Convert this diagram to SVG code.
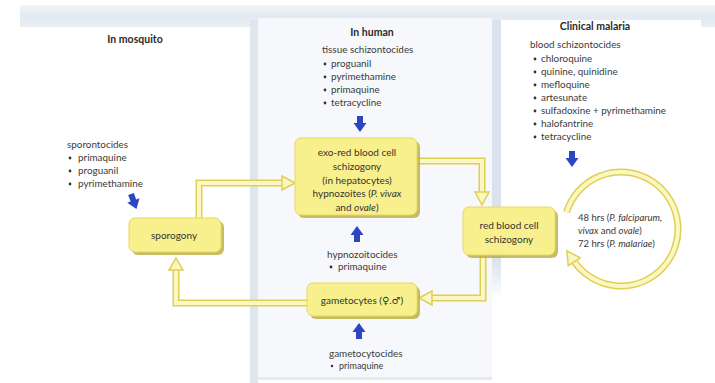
<svg xmlns="http://www.w3.org/2000/svg" width="715" height="383" viewBox="0 0 715 383">
<style>
  text { font-family: Lato, "Open Sans", "DejaVu Sans", sans-serif; fill: #3a3a3a; }
  .title { font-size: 10.5px; font-weight: bold; fill: #2a2a2a; }
  .list { font-size: 9.9px; }
  .node { font-size: 10px; text-anchor: middle; fill: #333; }
  .cyc { font-size: 9.5px; }
  .box { fill: #f8f08c; stroke: #e4d862; stroke-width: 1; }
  .shadow { fill: #b9ab3e; opacity: 0.8; }
  .lineOut { fill: none; stroke: #e0cf55; stroke-width: 7; stroke-linejoin: miter; }
  .lineIn { fill: none; stroke: #fbf7c2; stroke-width: 4; stroke-linejoin: miter; }
  .head { fill: #fbf7c2; stroke: #e0cf55; stroke-width: 1.5; stroke-linejoin: miter; }
  .blue { fill: #2b46c2; }
  .bul { fill: #333; }
</style>
<defs>
  <linearGradient id="topband" x1="0" y1="0" x2="0" y2="1">
    <stop offset="0" stop-color="#f2f5f9"/>
    <stop offset="0.5" stop-color="#e3e9f1"/>
    <stop offset="1" stop-color="#e9eef4"/>
  </linearGradient>
  <linearGradient id="vfade" x1="0" y1="0" x2="0" y2="1">
    <stop offset="0" stop-color="#d9e2ed"/>
    <stop offset="0.85" stop-color="#d9e2ed"/>
    <stop offset="1" stop-color="#d9e2ed" stop-opacity="0"/>
  </linearGradient>
  <path id="barrow" d="M-3,0 H3 V7 H6.5 L0,16 L-6.5,7 H-3 Z"/>
</defs>

<!-- background panels -->
<rect x="0" y="0" width="715" height="383" fill="#ffffff"/>
<rect x="20" y="5" width="695" height="22" fill="url(#topband)"/>
<rect x="20" y="27" width="230" height="356" fill="#ffffff"/>
<rect x="258" y="18" width="234" height="360" fill="#f6f8fb"/>
<rect x="250" y="20" width="8" height="363" fill="#dfe6ef"/>
<rect x="492" y="20" width="9" height="280" fill="url(#vfade)"/>
<rect x="501" y="20" width="200" height="363" fill="#ffffff"/>
<rect x="258" y="377" width="234" height="3" fill="#e6ebf1"/>

<!-- headings and drug lists -->
<g id="labels">
  <text class="title" x="135" y="43" text-anchor="middle">In mosquito</text>
  <text class="title" x="372" y="36" text-anchor="middle">In human</text>
  <text class="title" x="595" y="30" text-anchor="middle">Clinical malaria</text>

  <text class="list" x="67" y="148">sporontocides</text>
  <circle class="bul" cx="70" cy="158" r="1.4"/><text class="list" x="78" y="161">primaquine</text>
  <circle class="bul" cx="70" cy="171" r="1.4"/><text class="list" x="78" y="174">proguanil</text>
  <circle class="bul" cx="70" cy="184" r="1.4"/><text class="list" x="78" y="187">pyrimethamine</text>

  <text class="list" x="322" y="53">tissue schizontocides</text>
  <circle class="bul" cx="325" cy="64" r="1.4"/><text class="list" x="331" y="67">proguanil</text>
  <circle class="bul" cx="325" cy="77" r="1.4"/><text class="list" x="331" y="80">pyrimethamine</text>
  <circle class="bul" cx="325" cy="90" r="1.4"/><text class="list" x="331" y="93">primaquine</text>
  <circle class="bul" cx="325" cy="103" r="1.4"/><text class="list" x="331" y="106">tetracycline</text>

  <text class="list" x="530" y="48">blood schizontocides</text>
  <circle class="bul" cx="535" cy="59" r="1.4"/><text class="list" x="541" y="62">chloroquine</text>
  <circle class="bul" cx="535" cy="72" r="1.4"/><text class="list" x="541" y="75">quinine, quinidine</text>
  <circle class="bul" cx="535" cy="85" r="1.4"/><text class="list" x="541" y="88">mefloquine</text>
  <circle class="bul" cx="535" cy="98" r="1.4"/><text class="list" x="541" y="101">artesunate</text>
  <circle class="bul" cx="535" cy="111" r="1.4"/><text class="list" x="541" y="114">sulfadoxine + pyrimethamine</text>
  <circle class="bul" cx="535" cy="124" r="1.4"/><text class="list" x="541" y="127">halofantrine</text>
  <circle class="bul" cx="535" cy="137" r="1.4"/><text class="list" x="541" y="140">tetracycline</text>

  <text class="list" x="327" y="258">hypnozoitocides</text>
  <circle class="bul" cx="331" cy="267" r="1.4"/><text class="list" x="338" y="270">primaquine</text>

  <text class="list" x="329" y="357">gametocytocides</text>
  <circle class="bul" cx="332" cy="366" r="1.2"/><text class="list" x="339" y="369" style="font-size:9px">primaquine</text>
</g>

<!-- blue drug arrows -->
<g id="drug-arrows">
  <use href="#barrow" class="blue" transform="translate(131,194) rotate(-20)"/>
  <use href="#barrow" class="blue" transform="translate(360,116)"/>
  <use href="#barrow" class="blue" transform="translate(572,151)"/>
  <use href="#barrow" class="blue" transform="translate(357,242) rotate(180)"/>
  <use href="#barrow" class="blue" transform="translate(359,339) rotate(180)"/>
</g>

<!-- connectors -->
<g id="connectors">
  <path class="lineOut" d="M199,220 V183 H283"/>
  <path class="lineIn" d="M199,220 V183 H283"/>
  <polygon class="head" points="282,176 295,183 282,190"/>

  <path class="lineOut" d="M418,161 H482 V193"/>
  <path class="lineIn" d="M418,161 H482 V193"/>
  <polygon class="head" points="475,192 482,205 489,192"/>

  <path class="lineOut" d="M483,256 V298 H431"/>
  <path class="lineIn" d="M483,256 V298 H431"/>
  <polygon class="head" points="432,291 419,298 432,305"/>

  <path class="lineOut" d="M308,303 H176 V269"/>
  <path class="lineIn" d="M308,303 H176 V269"/>
  <polygon class="head" points="169,270 176,258 183,270"/>

  <path class="lineOut" d="M566.5,212.3 A57,57 0 1 1 574.3,261.7"/>
  <path class="lineIn" d="M566.5,212.3 A57,57 0 1 1 574.3,261.7"/>
  <polygon class="head" points="580.3,257.9 566.8,250.8 568.3,265.6"/>
</g>

<!-- nodes -->
<g id="node-sporogony">
  <rect class="shadow" x="132" y="221" width="92" height="34" rx="6"/>
  <rect class="box" x="129" y="218" width="92" height="34" rx="6"/>
  <text class="node" x="174" y="239">sporogony</text>
</g>

<g id="node-exo">
  <rect class="shadow" x="298" y="141" width="122" height="77" rx="6"/>
  <rect class="box" x="295" y="138" width="122" height="77" rx="6"/>
  <text class="node" x="357" y="156">exo-red blood cell</text>
  <text class="node" x="357" y="170">schizogony</text>
  <text class="node" x="357" y="184">(in hepatocytes)</text>
  <text class="node" x="357" y="197">hypnozoites (<tspan font-style="italic">P. vivax</tspan></text>
  <text class="node" x="357" y="211">and <tspan font-style="italic">ovale</tspan>)</text>
</g>

<g id="node-rbc">
  <rect class="shadow" x="466" y="210" width="92" height="48" rx="6"/>
  <rect class="box" x="463" y="207" width="92" height="48" rx="6"/>
  <text class="node" x="509" y="229">red blood cell</text>
  <text class="node" x="509" y="243">schizogony</text>
</g>

<g id="node-gametocytes">
  <rect class="shadow" x="310" y="286" width="110" height="33" rx="6"/>
  <rect class="box" x="307" y="283" width="110" height="33" rx="6"/>
  <text class="node" x="362" y="304">gametocytes (♀.♂)</text>
</g>

<g id="cycle-label">
  <text class="cyc" x="578" y="221">48 hrs (<tspan font-style="italic">P. falciparum,</tspan></text>
  <text class="cyc" x="578" y="234"><tspan font-style="italic">vivax</tspan> and <tspan font-style="italic">ovale</tspan>)</text>
  <text class="cyc" x="578" y="247">72 hrs (<tspan font-style="italic">P. malariae</tspan>)</text>
</g>
</svg>
